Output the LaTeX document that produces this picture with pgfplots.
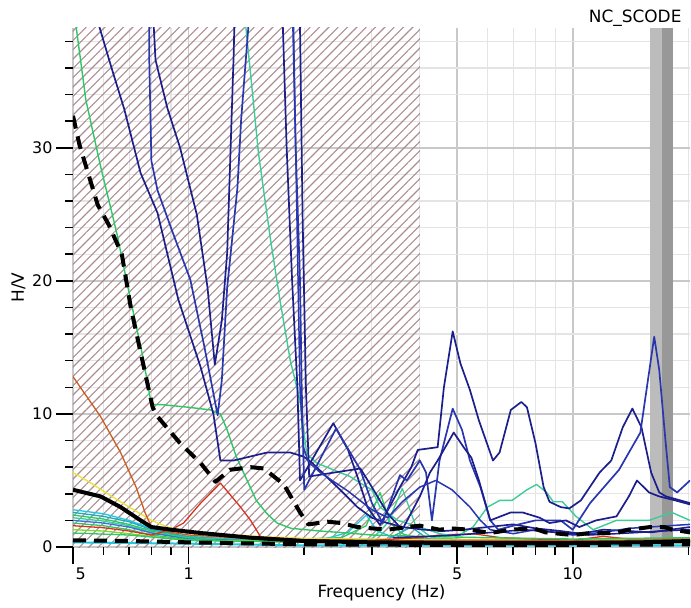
\documentclass[border=0pt]{standalone}
\usepackage{pgfplots}
\pgfplotsset{compat=1.18}
\usepackage{fontspec}
\setmainfont{DejaVu Sans}
\usetikzlibrary{patterns.meta}
\definecolor{navy}{RGB}{28,30,140}
\definecolor{blueb}{RGB}{40,55,175}
\definecolor{hatchc}{RGB}{170,140,145}
\definecolor{grn}{RGB}{45,200,100}
\definecolor{mint}{RGB}{60,205,150}
\definecolor{cyanc}{RGB}{30,200,225}
\definecolor{tealc}{RGB}{30,170,190}
\definecolor{limec}{RGB}{120,220,40}
\definecolor{yel}{RGB}{235,225,60}
\definecolor{orng}{RGB}{205,90,30}
\definecolor{redc}{RGB}{215,50,30}
\definecolor{lblue}{RGB}{60,110,220}
\definecolor{barl}{RGB}{188,188,188}
\definecolor{bard}{RGB}{152,152,152}
\begin{document}
\begin{tikzpicture}
\useasboundingbox (-73bp,-61bp) rectangle (618bp,547bp);
\begin{axis}[
  name=ax,
  scale only axis, width=617bp, height=519bp,
  xmode=log, xmin=0.5, xmax=20.2, ymin=0, ymax=39,
  axis x line*=bottom, axis y line*=left,
  axis line style={draw=none},
  xtick={0.5,1,5,10},
  xticklabels={\makebox[0pt][l]{\,5},1,5,10},
  minor xtick={0.6,0.7,0.8,0.9,2,3,4,6,7,8,9,20},
  ytick={0,10,20,30},
  minor ytick={2,4,6,8,12,14,16,18,22,24,26,28,32,34,36,38},
  grid=both,
  major grid style={draw={rgb,255:red,200;green,200;blue,200}, line width=1.6bp},
  minor grid style={draw={rgb,255:red,228;green,228;blue,228}, line width=1.2bp},
  tick align=outside,
  major tick length=17bp, minor tick length=8bp,
  every tick/.style={black, line width=1.6bp},
  /pgf/number format/assume math mode=true,
  tick label style={font=\fontsize{16}{19}\selectfont},
  label style={font=\fontsize{17}{20}\selectfont},
  xlabel={Frequency (Hz)},
  ylabel={H/V},
  xlabel style={yshift=2bp},
  every axis plot/.append style={line join=round},
]
% hatched zone
\addplot[draw=none, pattern={Lines[angle=45,distance=6.6bp,line width=1.1bp]}, pattern color=hatchc, forget plot] coordinates {(0.5,39) (4.0,39)} \closedcycle;
% grey band
\addplot[draw=none, fill=barl, forget plot] coordinates {(15.85,39) (17.1,39)} \closedcycle;
\addplot[draw=none, fill=bard, forget plot] coordinates {(17.1,39) (18.2,39)} \closedcycle;

% low bundle
\addplot[cyanc, line width=1.3bp] coordinates {(0.5,2.8) (0.6,2.5) (0.7,2.0) (0.8,1.4) (0.9,1.0) (1,0.8) (1.3,0.6) (1.7,0.5) (2.2,0.5) (2.6,1.1) (2.9,2.4) (3.1,1.2) (3.5,0.6) (4.5,0.5) (6,0.5) (8,0.45) (10,0.4) (14,0.45) (20.2,0.5)};
\addplot[tealc, line width=1.3bp] coordinates {(0.5,2.6) (0.6,2.3) (0.7,1.9) (0.8,1.3) (1,0.75) (1.5,0.5) (2,0.45) (3,0.5) (3.3,0.6) (3.8,1.5) (4.2,0.6) (6,0.4) (10,0.35) (20.2,0.4)};
\addplot[grn, line width=1.3bp] coordinates {(0.5,2.4) (0.6,2.1) (0.7,1.7) (0.8,1.2) (1,0.7) (1.5,0.5) (2.5,0.7) (2.9,1.6) (3.15,4.1) (3.35,1.8) (3.6,1.0) (4,0.6) (6,0.5) (10,0.4) (20.2,0.4)};
\addplot[mint, line width=1.3bp] coordinates {(0.5,2.2) (0.6,1.95) (0.7,1.6) (0.8,1.1) (1,0.65) (2,0.45) (3,0.6) (3.3,1.8) (3.6,4.4) (3.9,1.6) (4.3,0.7) (6,0.45) (10,0.4) (20.2,0.45)};
\addplot[lblue, line width=1.3bp] coordinates {(0.5,2.0) (0.6,1.8) (0.7,1.5) (0.8,1.05) (1,0.6) (2,0.4) (3,0.5) (4,0.6) (5,0.5) (10,0.4) (20.2,0.4)};
\addplot[grn, line width=1.3bp] coordinates {(0.5,1.8) (0.6,1.6) (0.7,1.3) (0.8,0.9) (1,0.55) (2,0.4) (4,0.45) (7,0.5) (12,0.45) (20.2,0.5)};
\addplot[limec, line width=1.3bp] coordinates {(0.5,1.3) (0.6,1.2) (0.7,1.0) (0.8,0.8) (1,0.5) (2,0.4) (5,0.4) (10,0.45) (20.2,0.4)};
\addplot[grn, line width=1.3bp] coordinates {(0.5,1.05) (0.7,0.9) (1,0.5) (2,0.35) (6,0.35) (20.2,0.35)};
\addplot[yel, line width=1.3bp] coordinates {(0.5,5.6) (0.55,4.9) (0.6,4.2) (0.7,3.0) (0.8,2.0) (0.9,1.4) (1,1.1) (1.5,0.8) (2,0.65) (3,0.6) (5,0.55) (7,0.6) (10,0.55) (20.2,0.65)};
\addplot[redc, line width=1.3bp] coordinates {(0.5,1.6) (0.6,1.45) (0.7,1.2) (0.8,0.9) (0.9,1.3) (0.97,1.8) (1.075,3.3) (1.21,4.8) (1.365,3.0) (1.45,2.0) (1.54,0.75) (2,0.55) (3,0.5) (4,0.7) (4.5,0.9) (5.5,1.0) (6.5,0.7) (8,0.6) (10,0.5) (12,0.8) (14,0.6) (20.2,0.6)};
\addplot[orng, line width=1.3bp] coordinates {(0.5,12.8) (0.59,9.8) (0.665,7.1) (0.73,4.5) (0.77,2.6) (0.80,1.5) (0.9,1.1) (1.0,0.9) (1.5,0.6) (2,0.5) (3,0.45) (5,0.5) (10,0.5) (20.2,0.5)};

% green curves
\addplot[grn, line width=1.4bp] coordinates {(0.5,41) (0.51,39) (0.54,33.6) (0.59,28.6) (0.65,23.6) (0.70,19.1) (0.76,14.3) (0.80,10.7) (0.85,10.7) (1.0,10.5) (1.14,10.3) (1.21,10.0) (1.26,8.8) (1.33,6.8) (1.42,5.0) (1.5,3.5) (1.6,2.5) (1.7,1.8) (1.85,1.4) (2.2,1.2) (2.6,1.05) (3,0.9) (4,0.8) (6,0.7) (10,0.6) (20.2,0.7)};
\addplot[mint, line width=1.4bp] coordinates {(0.5,70) (1.38,41) (1.41,39) (1.44,36.4) (1.52,29.6) (1.63,23.3) (1.73,18.5) (1.84,14) (1.95,11) (2.03,7) (2.16,6.3) (2.38,5.8) (2.63,5.3) (2.8,4.8) (3.0,4.3) (3.15,3.0) (3.5,2.0) (4,1.5) (4.5,1.0) (5.0,0.8) (5.5,1.5) (6.0,3.0) (6.46,3.5) (6.95,3.5) (7.6,4.3) (8.05,4.7) (8.55,4.1) (8.9,3.4) (9.4,3.4) (10.2,2.3) (11.3,1.3) (13,2.0) (15.8,2.0) (18.1,2.6) (20.2,2.0)};

% blue curves
\addplot[navy, line width=1.7bp] coordinates {(0.55,45) (0.58,39.5) (0.63,36) (0.68,32.9) (0.75,28.1) (0.83,25.1) (0.94,18.6) (1.075,13.5) (1.16,10) (1.21,6.5) (1.31,6.5) (1.6,7.1) (1.84,7.1) (1.99,6.8) (2.1,6.3) (2.48,4.3) (2.75,3.0) (3.0,2.2) (3.2,1.9) (3.6,1.5) (4.1,1.3) (4.6,1.2) (5.2,1.3) (6,1.5) (7,1.7) (8,1.4) (9.3,1.2) (10.5,1.0) (12,1.3) (14,1.2) (16,1.1) (20.2,1.5)};
\addplot[navy, line width=1.7bp] coordinates {(0.80,45) (0.81,39.5) (0.82,36.6) (0.88,33) (0.95,30) (1.05,25) (1.12,19.5) (1.17,13.7) (1.22,17) (1.26,22.1) (1.285,29.6) (1.31,37) (1.33,45) (1.74,45) (1.76,39) (1.80,30) (1.86,20) (1.92,12) (1.95,5.0) (2.38,9.3) (2.6,7.3) (2.75,5.3) (2.92,3.0) (3.15,1.65) (3.55,4.5) (3.8,6.0) (3.95,7.3) (4.2,7.4) (4.45,7.5) (4.62,12) (4.87,16.2) (5.1,13.8) (5.4,11.8) (5.7,9.5) (6.2,6.5) (6.45,7.1) (6.9,10.3) (7.35,10.9) (7.6,10.5) (8.0,7.8) (8.4,4.5) (8.7,3.4) (9.3,3.0) (9.8,2.9) (10.5,3.5) (11.75,5.6) (12.6,6.5) (13.5,9.0) (14.3,10.4) (15.1,9.0) (16.0,5.6) (16.8,4.1) (17.5,3.8) (20.2,3.3)};
\addplot[blueb, line width=1.7bp] coordinates {(0.79,45) (0.79,36.6) (0.80,29) (0.83,26.8) (0.91,23.6) (1.01,20.1) (1.10,15) (1.19,9.9) (1.22,12.5) (1.26,19.5) (1.34,27) (1.37,32.1) (1.43,39) (1.46,45) (1.85,45) (1.87,39) (1.9,30) (1.95,20) (1.97,12) (2.0,4.3) (2.42,8.9) (2.8,5.8) (3.0,3.3) (3.2,1.8) (3.55,5.4) (3.7,5.0) (4.0,6.5) (4.15,5.6) (4.3,2.0) (4.5,6.5) (4.87,10.4) (5.15,8.8) (5.4,6.5) (5.75,4.5) (6.1,2.0) (6.4,1.3) (7,1.6) (8,2.0) (9.3,2.0) (10,1.3) (11.1,3.3) (13.2,5.8) (15,8.6) (15.6,12) (16.3,15.8) (16.8,13.3) (17.4,8.3) (17.9,4.5) (18.7,4.1) (20.2,5.0)};
\addplot[navy, line width=1.7bp] coordinates {(0.5,80) (1.92,45) (1.95,39) (1.98,25) (2.02,12) (2.06,5.3) (2.4,5.6) (2.8,5.9) (3.0,4.5) (3.3,2.5) (3.6,1.3) (4.0,3.8) (4.25,5.6) (4.45,6.5) (4.9,8.6) (5.2,7.5) (5.45,6.7) (5.7,5.0) (6.1,2.0) (6.9,2.6) (7.4,2.6) (8.2,2.2) (8.7,1.8) (9.6,2.0) (10.4,1.5) (11.5,2.0) (13,2.3) (14,3.8) (14.7,5.0) (15.8,4.1) (16.8,3.8) (18.5,3.5) (20.2,3.2)};
\addplot[blueb, line width=1.5bp] coordinates {(0.5,80) (1.86,45) (1.9,30) (1.95,12) (1.99,7.5) (2.05,6.4) (2.2,5.6) (2.6,4.2) (3.0,2.8) (3.3,2.2) (3.6,3.4) (4.0,4.5) (4.4,5.0) (4.85,4.3) (5.4,3.0) (5.75,2.0) (6.1,1.3) (7,1.0) (8,1.3) (9,1.1) (10,0.9) (12,1.1) (14,1.4) (20.2,1.7)};
\addplot[navy, line width=1.5bp] coordinates {(3.4,0.7) (4.2,0.8) (5,0.9) (6.2,1.1) (7.5,1.3) (9,1.1) (11,0.9) (13,1.0) (15,1.1) (17,1.2) (20.2,1.3)};

% black curves
\addplot[cyanc, line width=2bp] coordinates {(0.5,0.35) (1,0.25) (2,0.12) (20.2,0.12)};
\addplot[black, line width=4bp, dash pattern=on 13bp off 8bp] coordinates {(0.5,0.5) (0.7,0.45) (1,0.35) (2,0.2) (5,0.15) (10,0.15) (20.2,0.2)};
\addplot[black, line width=4bp] coordinates {(0.5,4.3) (0.59,3.8) (0.665,3.0) (0.75,2.0) (0.8,1.5) (0.9,1.3) (1.075,1.05) (1.45,0.7) (2,0.45) (3,0.35) (5,0.3) (10,0.3) (15,0.35) (20.2,0.45)};
\addplot[black, line width=4bp, dash pattern=on 13bp off 8bp] coordinates {(0.5,32.4) (0.52,30.2) (0.58,25.7) (0.62,24.2) (0.67,22) (0.707,18) (0.806,10.5) (0.83,9.8) (0.95,7.8) (1.075,6.3) (1.175,4.9) (1.28,5.8) (1.45,6.0) (1.57,5.9) (1.77,4.7) (1.95,2.6) (2.05,1.7) (2.3,1.9) (2.5,1.8) (2.75,1.5) (3.0,1.4) (3.3,1.3) (3.7,1.5) (4.0,1.6) (4.5,1.3) (4.8,1.4) (5.4,1.3) (6.1,1.05) (6.9,1.3) (7.9,1.4) (8.5,1.1) (10,0.9) (11.1,1.05) (12.9,1.05) (14,1.3) (15.9,1.5) (17.3,1.5) (18.2,1.3) (20.2,1.1)};
\end{axis}
\node[anchor=base east, font=\fontsize{17}{20}\selectfont, xshift=-5bp, yshift=5bp] at (ax.north east) {NC\_SCODE};
\end{tikzpicture}
\end{document}
